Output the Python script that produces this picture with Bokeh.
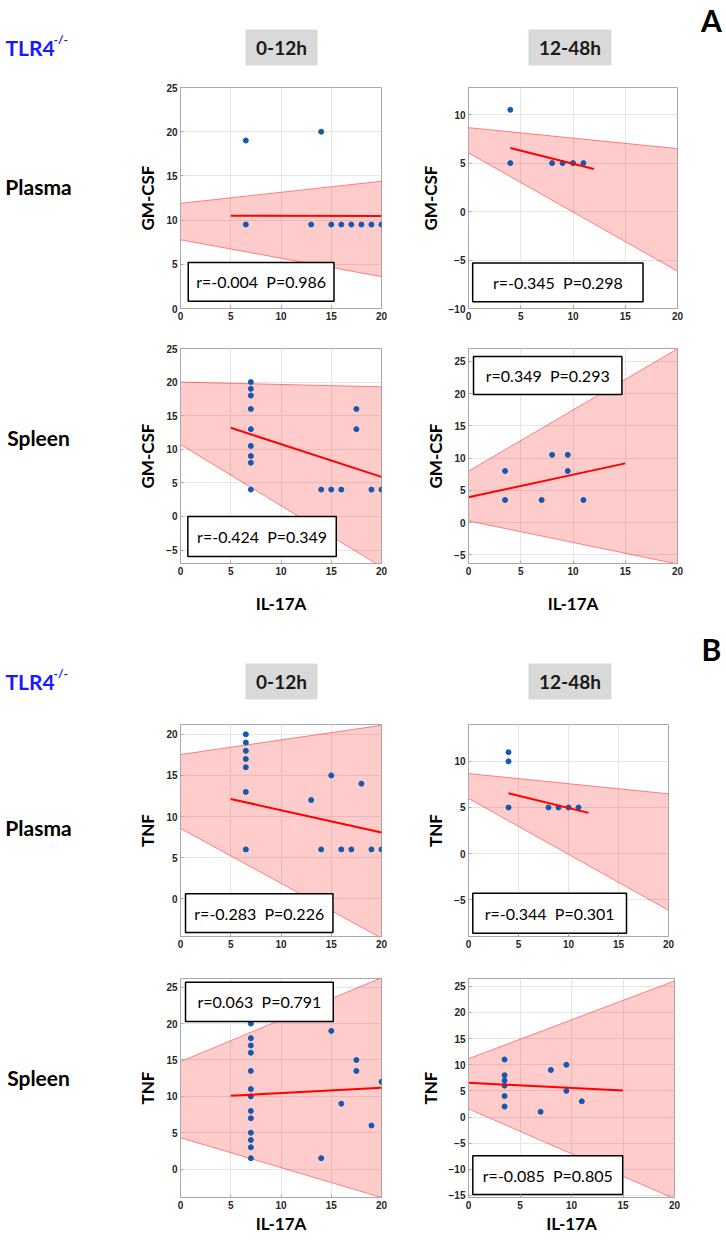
from bokeh.plotting import figure
from bokeh.layouts import column, row
from bokeh.models import Range1d, FixedTicker
from bokeh.embed import file_html
from bokeh.resources import INLINE
from bokeh.core.properties import value

# ---------------- data ----------------
x_ticks = [0, 5, 10, 15, 20]
band_x = [0, 20]

# A: GM-CSF vs IL-17A
a_pl_e_x = [6.5, 14, 6.5, 13, 15, 16, 17, 18, 19, 20]
a_pl_e_y = [19, 20, 9.5, 9.5, 9.5, 9.5, 9.5, 9.5, 9.5, 9.5]
a_pl_e_fit_x = [5, 20]
a_pl_e_fit_y = [10.5, 10.45]
a_pl_e_lo = [7.77, 3.6]
a_pl_e_hi = [11.9, 14.4]
a_pl_e_stats = "r=-0.004\u00a0 P=0.986"

a_pl_l_x = [4, 4, 8, 9, 10, 11]
a_pl_l_y = [10.5, 5, 5, 5, 5, 5]
a_pl_l_fit_x = [4, 12]
a_pl_l_fit_y = [6.56, 4.4]
a_pl_l_lo = [6.05, -6.15]
a_pl_l_hi = [8.66, 6.5]
a_pl_l_stats = "r=-0.345\u00a0 P=0.298"

a_sp_e_x = [7, 7, 7, 7, 7, 7, 7, 7, 7, 14, 15, 16, 19, 20, 17.5, 17.5]
a_sp_e_y = [20, 19, 18, 16, 13, 10.5, 9, 8, 4, 4, 4, 4, 4, 4, 16, 13]
a_sp_e_fit_x = [5, 20]
a_sp_e_fit_y = [13.2, 5.9]
a_sp_e_lo = [10.7, -7.5]
a_sp_e_hi = [20.0, 19.3]
a_sp_e_stats = "r=-0.424\u00a0 P=0.349"

a_sp_l_x = [3.5, 3.5, 7, 8, 9.5, 9.5, 11]
a_sp_l_y = [8, 3.5, 3.5, 10.5, 10.5, 8, 3.5]
a_sp_l_fit_x = [0, 15]
a_sp_l_fit_y = [3.94, 9.18]
a_sp_l_lo = [0.25, -6.44]
a_sp_l_hi = [7.98, 26.95]
a_sp_l_stats = "r=0.349\u00a0 P=0.293"

# B: TNF vs IL-17A
b_pl_e_x = [6.5, 6.5, 6.5, 6.5, 6.5, 6.5, 6.5, 13, 15, 14, 16, 17, 18, 19, 20]
b_pl_e_y = [20, 19, 18, 17, 16, 13, 6, 12, 15, 6, 6, 6, 14, 6, 6]
b_pl_e_fit_x = [5, 20]
b_pl_e_fit_y = [12.13, 8.05]
b_pl_e_lo = [8.55, -4.8]
b_pl_e_hi = [17.55, 21.1]
b_pl_e_stats = "r=-0.283\u00a0 P=0.226"

b_pl_l_x = [4, 4, 4, 8, 9, 10, 11]
b_pl_l_y = [11, 10, 5, 5, 5, 5, 5]
b_pl_l_fit_x = [4, 12]
b_pl_l_fit_y = [6.55, 4.41]
b_pl_l_lo = [5.98, -6.16]
b_pl_l_hi = [8.68, 6.48]
b_pl_l_stats = "r=-0.344\u00a0 P=0.301"

b_sp_e_x = [7, 7, 7, 7, 7, 7, 7, 7, 7, 7, 7, 7, 7, 15, 14, 16, 17.5, 17.5, 19, 20]
b_sp_e_y = [20, 18, 17, 16, 13.5, 11, 10, 8, 7, 5, 4, 3, 1.5, 19, 1.5, 9, 15, 13.5, 6, 12]
b_sp_e_fit_x = [5, 20]
b_sp_e_fit_y = [10.09, 11.17]
b_sp_e_lo = [4.31, -3.9]
b_sp_e_hi = [14.77, 26.3]
b_sp_e_stats = "r=0.063\u00a0 P=0.791"

b_sp_l_x = [3.5, 3.5, 3.5, 3.5, 3.5, 3.5, 8, 9.5, 9.5, 11, 7]
b_sp_l_y = [11, 8, 7, 6, 4, 2, 9, 10, 5, 3, 1]
b_sp_l_fit_x = [0, 15]
b_sp_l_fit_y = [6.54, 5.05]
b_sp_l_lo = [1.56, -15.64]
b_sp_l_hi = [11.15, 26.04]
b_sp_l_stats = "r=-0.085\u00a0 P=0.805"

row_names = ["Plasma", "Spleen"]
time_names = ["0-12h", "12-48h"]
group_name = "TLR4"
group_sup = "-/-"
x_name = "IL-17A"

# ---------------- styling helpers ----------------
CAL = "Lato"
PT_COLOR = "#1459b0"


def panel(xs, ys, fx, fy, lo, hi, stats, ylim, yticks, ylabel, xlabel,
          box, row_top, row_bot, f_top, f_bot, f_left_border, f_width, f_right_border,
          xlab_standoff=2):
    h = row_bot - row_top
    p = figure(width=f_left_border + f_width + f_right_border, height=h,
               x_range=Range1d(0, 20), y_range=Range1d(*ylim),
               output_backend="svg", toolbar_location=None,
               min_border_left=f_left_border, min_border_right=f_right_border,
               min_border_top=f_top - row_top, min_border_bottom=row_bot - f_bot)
    p.outline_line_color = "#a8a8a8"
    p.background_fill_color = "white"
    p.border_fill_color = "white"
    p.xaxis.ticker = FixedTicker(ticks=x_ticks)
    p.yaxis.ticker = FixedTicker(ticks=yticks)
    p.xgrid.ticker = FixedTicker(ticks=x_ticks)
    p.ygrid.ticker = FixedTicker(ticks=yticks)
    p.grid.grid_line_color = "#e6e6e6"
    for ax in (p.xaxis[0], p.yaxis[0]):
        ax.axis_line_color = "#a8a8a8"
        ax.major_tick_in = 3
        ax.major_tick_out = 0
        ax.major_tick_line_color = "#a8a8a8"
        ax.minor_tick_line_color = None
        ax.major_label_text_font = "Liberation Sans"
        ax.major_label_text_font_style = "bold"
        ax.major_label_text_font_size = "10px"
        ax.major_label_text_color = "#262626"
        ax.major_label_standoff = 3
        ax.axis_label_text_font = CAL
        ax.axis_label_text_font_style = "bold"
        ax.axis_label_text_font_size = "17px"
        ax.axis_label_text_color = "black"
    p.yaxis.axis_label = ylabel
    p.yaxis.axis_label_standoff = 5
    if xlabel:
        p.xaxis.axis_label = xlabel
        p.xaxis.axis_label_standoff = xlab_standoff

    bx = band_x + band_x[::-1]
    by = hi + lo[::-1]
    p.patch(bx, by, fill_color="#ff0000", fill_alpha=0.2, line_color=None)
    p.line(band_x, hi, line_color="#ff0000", line_alpha=0.45, line_width=1)
    p.line(band_x, lo, line_color="#ff0000", line_alpha=0.45, line_width=1)
    p.scatter(xs, ys, size=5, fill_color=PT_COLOR, line_color=PT_COLOR)
    p.line(fx, fy, line_color="#ff0000", line_width=2)
    x0, x1, y0, y1 = box
    p.quad(left=[x0], right=[x1], bottom=[y0], top=[y1], fill_color="white",
           line_color="black", line_width=1.5)
    p.text(x=[(x0 + x1) / 2], y=[(y0 + y1) / 2], text=[stats], text_font=value(CAL),
           text_font_size="16px", text_align="center", text_baseline="middle",
           text_color="black")
    return p


def blank(width, y_top, y_bot, x0, x1):
    f = figure(width=width, height=y_bot - y_top, x_range=Range1d(x0, x1),
               y_range=Range1d(y_bot, y_top), x_axis_type=None, y_axis_type=None,
               output_backend="svg", toolbar_location=None, min_border=0)
    f.outline_line_color = None
    f.grid.visible = False
    f.background_fill_color = "white"
    f.border_fill_color = "white"
    return f


def header(y_top, y_bot, box_top, box_bot, letter, letter_y):
    f = blank(726, y_top, y_bot, 0, 726)
    cy = (box_top + box_bot) / 2
    f.quad(left=[245, 528], right=[317, 611], top=[box_top, box_top],
           bottom=[box_bot, box_bot], fill_color="#d9d9d9", line_color=None)
    f.text(x=[281, 569.5], y=[cy, cy], text=time_names, text_font=value(CAL),
           text_font_size="19px", text_font_style="bold", text_align="center",
           text_baseline="middle", text_color="#1a1a1a")
    f.text(x=[5], y=[cy], text=[group_name], text_font=value(CAL), text_font_size="21px",
           text_font_style="bold", text_align="left", text_baseline="middle",
           text_color="#1a1aff")
    f.text(x=[53], y=[cy - 8], text=[group_sup], text_font=value(CAL), text_font_size="12px",
           text_font_style="bold", text_align="left", text_baseline="middle",
           text_color="#1a1aff")
    f.text(x=[711], y=[letter_y], text=[letter], text_font=value(CAL), text_font_size="30px",
           text_font_style="bold", text_align="center", text_baseline="middle",
           text_color="black")
    return f


def row_label(name, y_top, y_bot, y_center):
    f = blank(100, y_top, y_bot, 0, 100)
    f.text(x=[38], y=[y_center], text=[name], text_font=value(CAL), text_font_size="21px",
           text_font_style="bold", text_align="center", text_baseline="middle",
           text_color="black")
    return f


# ---------------- layout (page coordinates) ----------------
LB, LW, LR = 80, 201, 19     # left column panel: border / frame / border
RB = 68                      # right column left border

hA = header(0, 80, 29, 65, "A", 19)

pA1 = panel(a_pl_e_x, a_pl_e_y, a_pl_e_fit_x, a_pl_e_fit_y, a_pl_e_lo, a_pl_e_hi, a_pl_e_stats,
            (0, 25), [0, 5, 10, 15, 20, 25], "GM-CSF", None, (0.77, 15.27, 0.82, 5.2),
            80, 330, 87, 309, LB, LW, LR)
pA2 = panel(a_pl_l_x, a_pl_l_y, a_pl_l_fit_x, a_pl_l_fit_y, a_pl_l_lo, a_pl_l_hi, a_pl_l_stats,
            (-10, 12.8), [-10, -5, 0, 5, 10], "GM-CSF", None, (0.4, 16.7, -9.3, -5.3),
            80, 330, 87, 308, RB, 209, 41)
pA3 = panel(a_sp_e_x, a_sp_e_y, a_sp_e_fit_x, a_sp_e_fit_y, a_sp_e_lo, a_sp_e_hi, a_sp_e_stats,
            (-7, 25), [-5, 0, 5, 10, 15, 20, 25], "GM-CSF", x_name, (0.73, 15.5, -5.97, 0),
            330, 625, 348, 563, LB, LW, LR, xlab_standoff=15)
pA4 = panel(a_sp_l_x, a_sp_l_y, a_sp_l_fit_x, a_sp_l_fit_y, a_sp_l_lo, a_sp_l_hi, a_sp_l_stats,
            (-6.35, 27), [-5, 0, 5, 10, 15, 20, 25], "GM-CSF", x_name, (0.48, 14.68, 19.86, 25.75),
            330, 625, 339, 563, RB, 209, 41, xlab_standoff=15)

hB = header(625, 705, 663, 699, "B", 648)

pB1 = panel(b_pl_e_x, b_pl_e_y, b_pl_e_fit_x, b_pl_e_fit_y, b_pl_e_lo, b_pl_e_hi, b_pl_e_stats,
            (-4.6, 21.2), [0, 5, 10, 15, 20], "TNF", None, (0.5, 15.17, -4.1, 0.6),
            705, 958, 724, 938, LB, LW, LR)
pB2 = panel(b_pl_l_x, b_pl_l_y, b_pl_l_fit_x, b_pl_l_fit_y, b_pl_l_lo, b_pl_l_hi, b_pl_l_stats,
            (-9, 14), [-5, 0, 5, 10], "TNF", None, (0.43, 15.8, -8.65, -4.3),
            705, 958, 721, 936, RB, 200, 50)
pB3 = panel(b_sp_e_x, b_sp_e_y, b_sp_e_fit_x, b_sp_e_fit_y, b_sp_e_lo, b_sp_e_hi, b_sp_e_stats,
            (-3.9, 26.2), [0, 5, 10, 15, 20, 25], "TNF", x_name, (0.5, 15.2, 20.3, 25.7),
            958, 1238, 978, 1197, LB, LW, LR, xlab_standoff=1)
pB4 = panel(b_sp_l_x, b_sp_l_y, b_sp_l_fit_x, b_sp_l_fit_y, b_sp_l_lo, b_sp_l_hi, b_sp_l_stats,
            (-15.4, 26.5), [-15, -10, -5, 0, 5, 10, 15, 20, 25], "TNF", x_name,
            (0.42, 14.97, -14.83, -7.41),
            958, 1238, 974, 1199, RB, 206, 44, xlab_standoff=1)

lay = column(
    hA,
    row(row_label(row_names[0], 80, 330, 192), pA1, pA2),
    row(row_label(row_names[1], 330, 625, 452), pA3, pA4),
    hB,
    row(row_label(row_names[0], 705, 958, 828), pB1, pB2),
    row(row_label(row_names[1], 958, 1238, 1085), pB3, pB4),
)

open("out.html", "w").write(file_html(lay, INLINE))
